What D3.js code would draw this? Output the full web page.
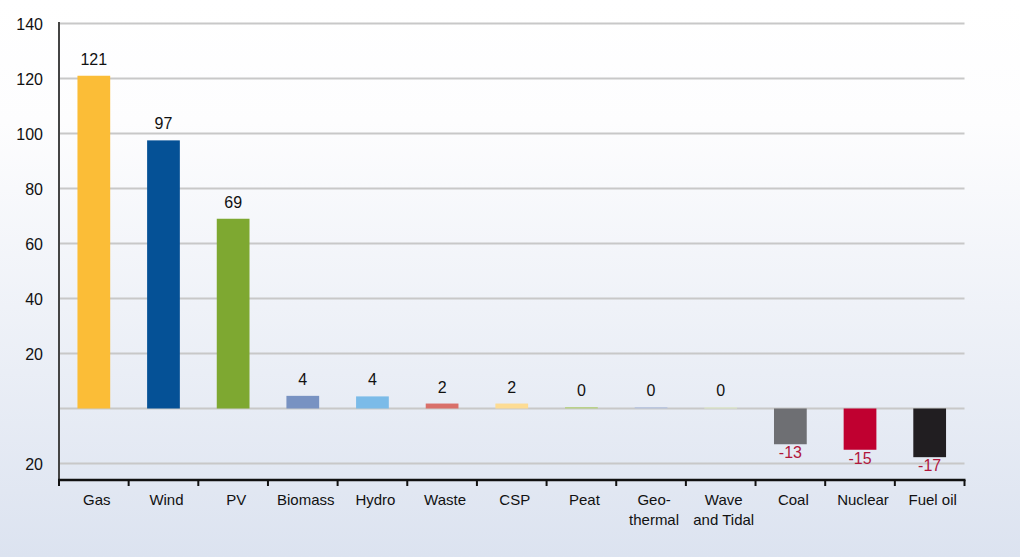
<!DOCTYPE html>
<html><head><meta charset="utf-8">
<script src="https://cdn.jsdelivr.net/npm/d3@7"></script>
<style>
html,body{margin:0;padding:0;}
svg{display:block;}
text{font-family:"Liberation Sans",Arial,sans-serif;}
</style></head>
<body>
<svg id="chart" width="1020" height="557"></svg>
<script>
const categories = ["Gas","Wind","PV","Biomass","Hydro","Waste","CSP","Peat","Geo-\nthermal","Wave\nand Tidal","Coal","Nuclear","Fuel oil"];
const values = [121, 97.5, 69, 4.6, 4.4, 1.8, 1.8, 0.5, 0.5, 0.4, -13, -15, -17.7];
const valueLabels = ["121","97","69","4","4","2","2","0","0","0","-13","-15","-17"];
const colors = ["#FBBD37","#055196","#7EA831","#7892C2","#7BBBE8","#D9706A","#FDDC94","#B5D080","#B8C4E0","#E0ECC8","#6E6F73","#C00030","#211E21"];
const yTicks = [140,120,100,80,60,40,20,0,-20];
const yTickLabels = ["140","120","100","80","60","40","20","","20"];

const W = 1020, H = 557;
const svg = d3.select("#chart");
const defs = svg.append("defs");
const grad = defs.append("linearGradient").attr("id","bg").attr("x1",0).attr("y1",0).attr("x2",0).attr("y2",1);
grad.append("stop").attr("offset","0%").attr("stop-color","#ffffff");
grad.append("stop").attr("offset","22%").attr("stop-color","#fdfdfe");
grad.append("stop").attr("offset","100%").attr("stop-color","#dce3f0");
svg.append("rect").attr("width",W).attr("height",H).attr("fill","url(#bg)");

const left = 59, right = 964.5;
const x = d3.scaleBand().domain(categories).range([left, right]).paddingInner(0.53).paddingOuter(0.265);
const xb = d3.scaleBand().domain(categories).range([left, right]).padding(0);
const y = d3.scaleLinear().domain([-26, 140]).range([480, 23.5]);

// gridlines
svg.append("g").selectAll("line").data(yTicks).join("line")
  .attr("x1", left).attr("x2", right)
  .attr("y1", d => y(d)).attr("y2", d => y(d))
  .attr("stroke", "#c8c8c8").attr("stroke-width", 2);

// y tick labels
svg.append("g").selectAll("text").data(yTicks).join("text")
  .attr("x", 43).attr("y", d => y(d) + 6)
  .attr("text-anchor", "end").attr("font-size", 16).attr("fill", "#111")
  .text((d,i) => yTickLabels[i]);

// bars
svg.append("g").selectAll("rect").data(values).join("rect")
  .attr("x", (d,i) => x(categories[i]))
  .attr("width", x.bandwidth())
  .attr("y", d => y(Math.max(0,d)))
  .attr("height", d => Math.abs(y(d) - y(0)))
  .attr("fill", (d,i) => colors[i]);

// value labels
svg.append("g").selectAll("text").data(values).join("text")
  .attr("x", (d,i) => x(categories[i]) + x.bandwidth()/2)
  .attr("y", d => d >= 0 ? y(d) - 11 : y(d) + 14)
  .attr("text-anchor", "middle").attr("font-size", 16)
  .attr("fill", d => d >= 0 ? "#111" : "#B0173C")
  .text((d,i) => valueLabels[i]);

// y axis line
svg.append("line").attr("x1", left).attr("x2", left).attr("y1", 22).attr("y2", 481)
  .attr("stroke", "#444").attr("stroke-width", 2);
// x axis
const xAxis = d3.axisBottom(xb).tickSize(0).tickFormat("");
const gx = svg.append("g").attr("transform", `translate(0,${y(-26)})`).call(xAxis);
gx.select(".domain").remove();
svg.append("line").attr("x1", left - 1).attr("x2", right + 1).attr("y1", y(-26)).attr("y2", y(-26))
  .attr("stroke", "#111").attr("stroke-width", 2.5);
const boundaries = [left].concat(categories.map(c => xb(c) + xb.bandwidth()));
svg.append("g").selectAll("line").data(boundaries).join("line")
  .attr("x1", d => d).attr("x2", d => d).attr("y1", y(-26)).attr("y2", y(-26) + 6)
  .attr("stroke", "#111").attr("stroke-width", 2);

// category labels
const cl = svg.append("g").selectAll("text").data(categories).join("text")
  .attr("x", d => xb(d) + xb.bandwidth()/2 + 3)
  .attr("y", 505)
  .attr("text-anchor", "middle").attr("font-size", 15).attr("fill", "#111");
cl.each(function(d){
  const lines = d.split("\n");
  const t = d3.select(this);
  lines.forEach((ln, k) => {
    t.append("tspan").attr("x", t.attr("x")).attr("dy", k === 0 ? 0 : 20).text(ln);
  });
});
</script>
</body></html>
